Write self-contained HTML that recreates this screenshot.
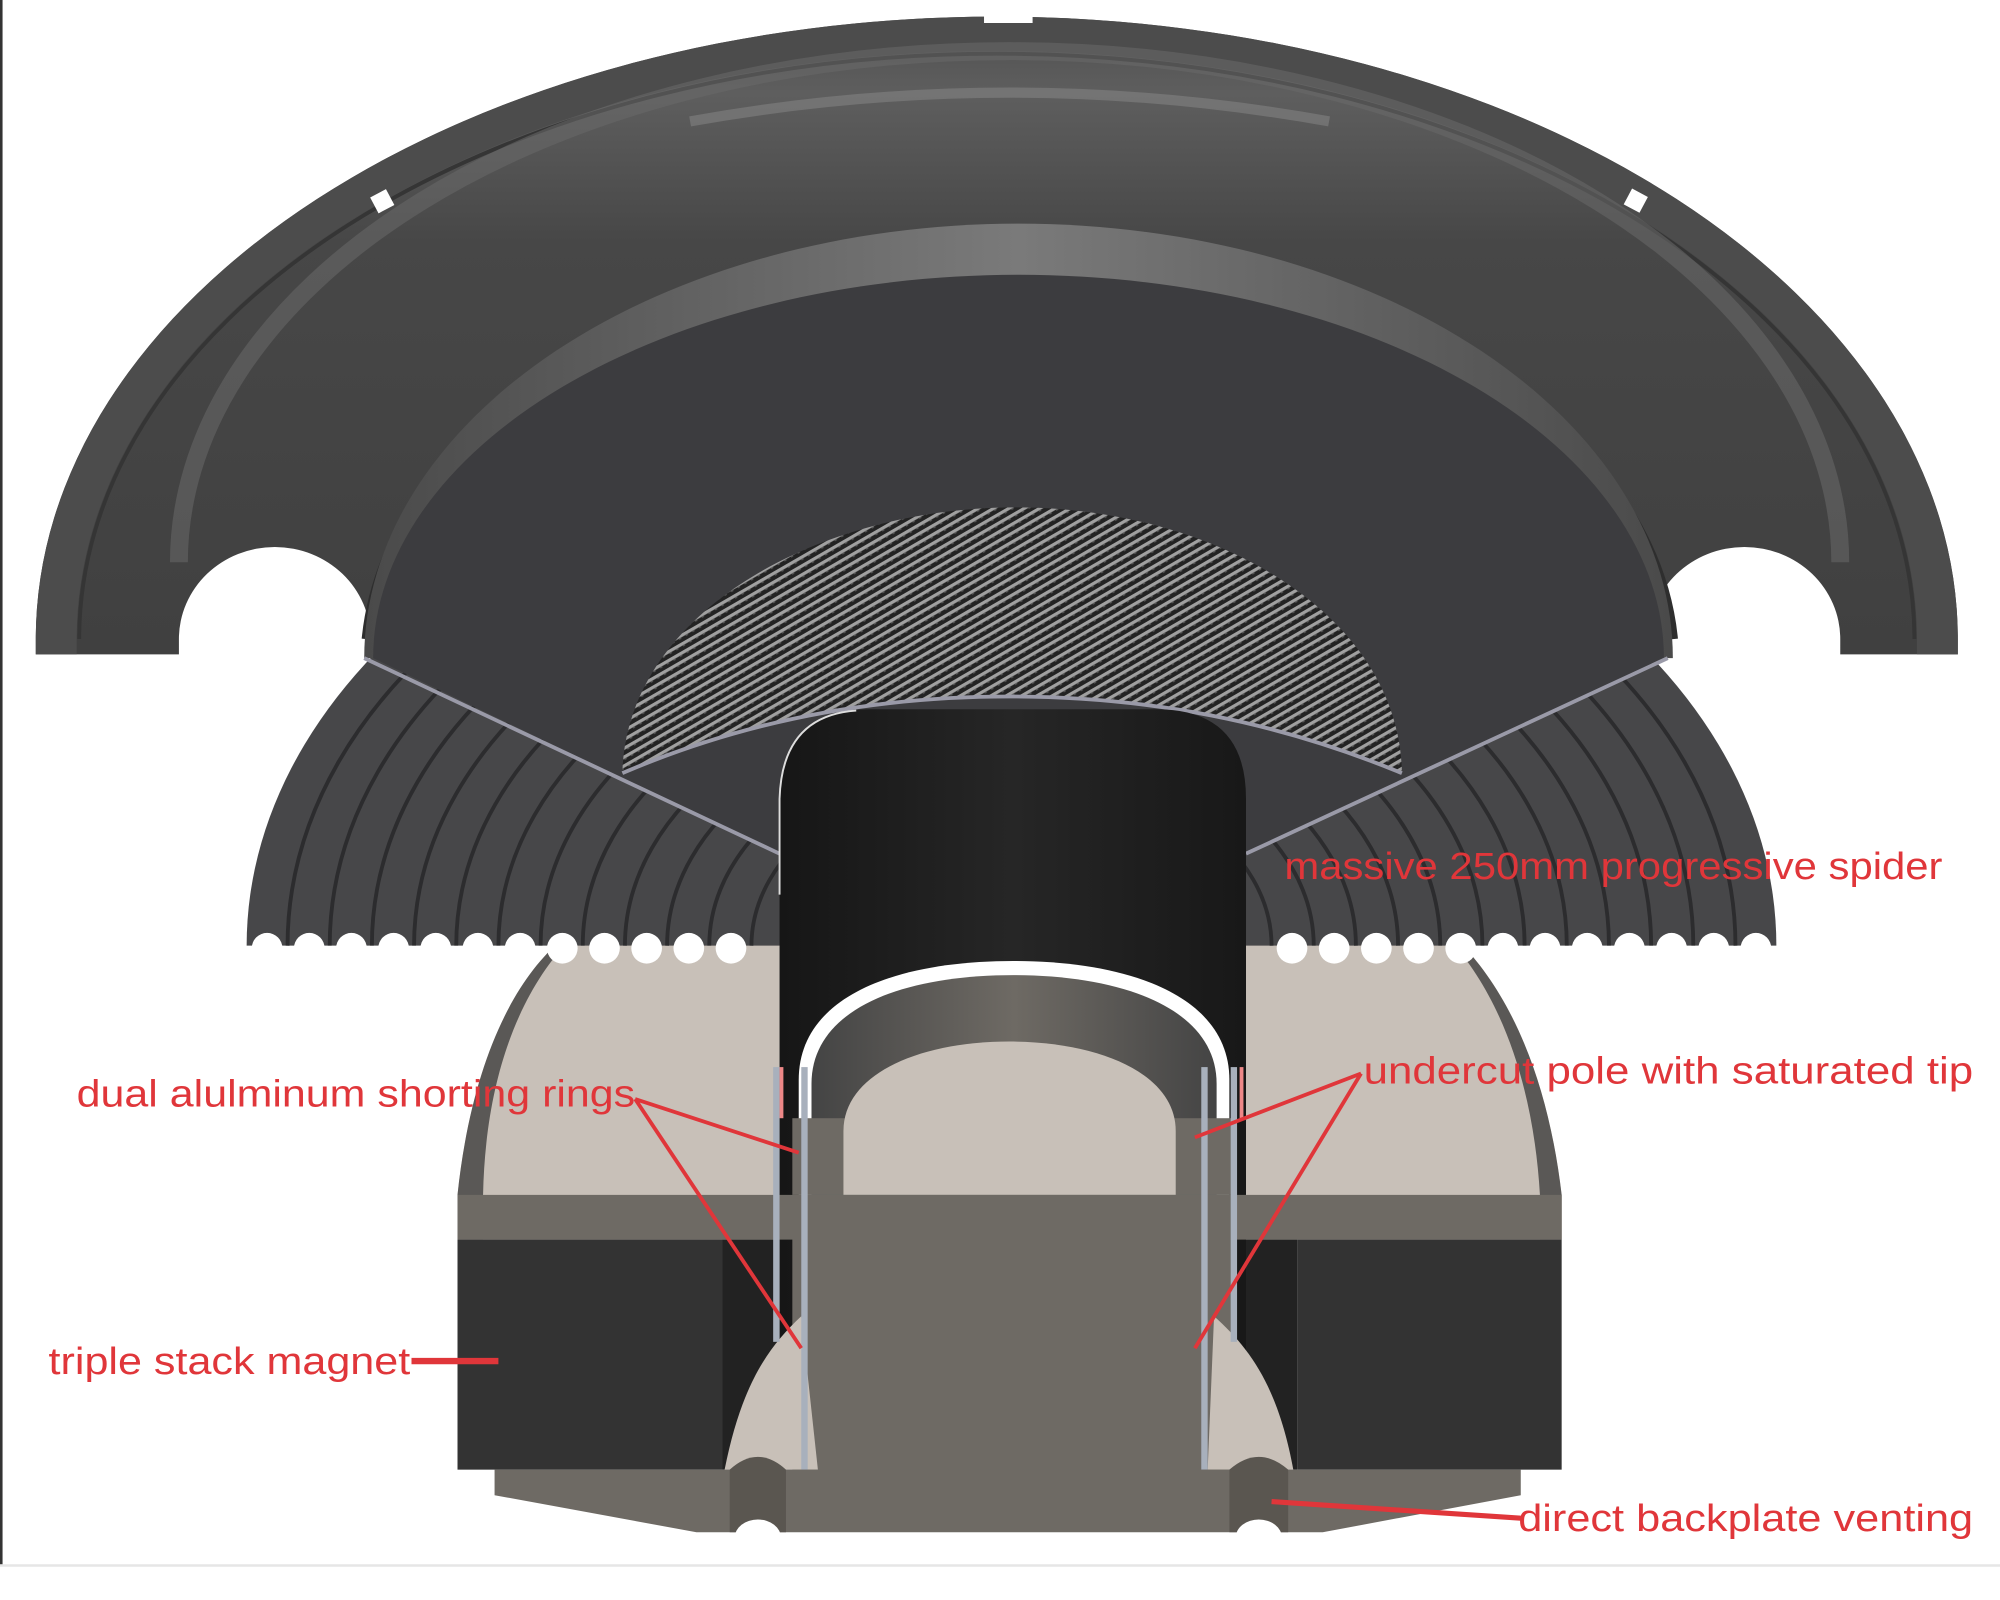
<!DOCTYPE html>
<html><head><meta charset="utf-8"><style>
html,body{margin:0;padding:0;background:#fff;width:2000px;height:1600px;overflow:hidden}
svg{display:block}
text{font-family:"Liberation Sans",sans-serif;fill:#e0363a;font-size:30px}
</style></head><body>
<svg width="2000" height="1600" viewBox="0 0 1565 1252" preserveAspectRatio="none" xmlns="http://www.w3.org/2000/svg">
<defs>
<linearGradient id="sur" x1="0" y1="0" x2="0" y2="1">
<stop offset="0" stop-color="#505050"/><stop offset="0.12" stop-color="#5e5e5e"/><stop offset="0.35" stop-color="#474747"/><stop offset="1" stop-color="#404040"/></linearGradient>
<linearGradient id="rim" x1="0" y1="0" x2="1" y2="0">
<stop offset="0" stop-color="#4a4a4a"/><stop offset="0.5" stop-color="#7a7a7a"/><stop offset="1" stop-color="#4a4a4a"/></linearGradient>
<pattern id="carbon" width="6" height="6" patternUnits="userSpaceOnUse" patternTransform="rotate(-30)">
<rect width="6" height="6" fill="#232323"/><rect width="6" height="2.5" fill="#a0a0a0"/><rect x="0" y="2.5" width="2" height="1" fill="#555"/></pattern>
<linearGradient id="former" x1="0" y1="0" x2="1" y2="0">
<stop offset="0" stop-color="#161616"/><stop offset="0.5" stop-color="#262626"/><stop offset="1" stop-color="#181818"/></linearGradient>
<linearGradient id="inner" x1="0" y1="0" x2="1" y2="0">
<stop offset="0" stop-color="#444"/><stop offset="0.5" stop-color="#6e6a64"/><stop offset="1" stop-color="#444"/></linearGradient>
</defs>
<rect width="1565" height="1252" fill="#fff"/>
<rect x="0" y="0" width="2" height="1225" fill="#333"/>
<rect x="0" y="1224" width="1565" height="2" fill="#e6e6e6"/>

<!-- motor top plate -->
<path d="M358,970 L358,935 C368,840 398,770 440,735 L1140,735 C1185,780 1212,850 1222,935 L1222,970 Z" fill="#c8c0b8"/>
<path d="M358,970 L358,935 C368,840 398,770 440,735 L446,735 C408,775 380,840 378,935 L378,970 Z" fill="#5a5856"/>
<path d="M1222,970 L1222,935 C1212,850 1185,780 1140,735 L1134,735 C1175,780 1200,850 1205,935 L1205,970 Z" fill="#5a5856"/>

<!-- spider -->
<path d="M193,740 A598,412 0 0 1 1390,740 Z" fill="#474749"/>
<g fill="none" stroke="#2c2c2e" stroke-width="3">
<path d="M225,740 A566,390 0 0 1 1358,740"/>
<path d="M258,740 A533,368 0 0 1 1325,740"/>
<path d="M291,740 A500,345 0 0 1 1292,740"/>
<path d="M324,740 A467,322 0 0 1 1259,740"/>
<path d="M357,740 A434,300 0 0 1 1226,740"/>
<path d="M390,740 A401,277 0 0 1 1193,740"/>
<path d="M423,740 A368,254 0 0 1 1160,740"/>
<path d="M456,740 A335,231 0 0 1 1127,740"/>
<path d="M489,740 A302,208 0 0 1 1094,740"/>
<path d="M522,740 A269,186 0 0 1 1061,740"/>
<path d="M555,740 A236,163 0 0 1 1028,740"/>
<path d="M588,740 A203,140 0 0 1 995,740"/>
</g>
<g fill="#fff">
<circle cx="209" cy="742" r="12"/><circle cx="242" cy="742" r="12"/><circle cx="275" cy="742" r="12"/><circle cx="308" cy="742" r="12"/><circle cx="341" cy="742" r="12"/><circle cx="374" cy="742" r="12"/><circle cx="407" cy="742" r="12"/><circle cx="440" cy="742" r="12"/><circle cx="473" cy="742" r="12"/><circle cx="506" cy="742" r="12"/><circle cx="539" cy="742" r="12"/><circle cx="572" cy="742" r="12"/>
<circle cx="1011" cy="742" r="12"/><circle cx="1044" cy="742" r="12"/><circle cx="1077" cy="742" r="12"/><circle cx="1110" cy="742" r="12"/><circle cx="1143" cy="742" r="12"/><circle cx="1176" cy="742" r="12"/><circle cx="1209" cy="742" r="12"/><circle cx="1242" cy="742" r="12"/><circle cx="1275" cy="742" r="12"/><circle cx="1308" cy="742" r="12"/><circle cx="1341" cy="742" r="12"/><circle cx="1374" cy="742" r="12"/>
</g>

<!-- surround -->
<path d="M28,500 A752,487 0 0 1 1532,500 L1532,512 L1440,512 L1440,500 A75,72 0 0 0 1290,500 L1290,515 L290,515 L290,500 A75,72 0 0 0 140,500 L140,512 L28,512 Z" fill="url(#sur)"/>
<!-- flange ring -->
<path d="M28,500 A752,487 0 0 1 1532,500 L1532,512 L1500,512 L1500,500 A712,455 0 0 0 60,500 L60,512 L28,512 Z" fill="#4c4c4c"/>
<path d="M62,500 A718,458 0 0 1 1498,500" fill="none" stroke="#353535" stroke-width="3"/>
<!-- roll highlight -->
<path d="M140,440 A650,400 0 0 1 1440,440" fill="none" stroke="#6a6a6a" stroke-width="14" opacity="0.55"/>
<path d="M540,95 Q790,50 1040,95" fill="none" stroke="#8a8a8a" stroke-width="8" opacity="0.5"/>
<path d="M286,500 A513,328 0 0 1 1310,500" fill="none" stroke="#2e2e2e" stroke-width="6"/>
<!-- flange notches -->
<rect x="292" y="150" width="14" height="14" fill="#fff" transform="rotate(-28 300 157)"/>
<rect x="1273" y="150" width="14" height="14" fill="#fff" transform="rotate(28 1280 157)"/>
<rect x="770" y="10" width="38" height="8" fill="#fff"/>
<!-- rim band -->
<path d="M285,515 A512,340 0 0 1 1309,515 Z" fill="url(#rim)"/>
<!-- cone -->
<path d="M292,515 A505,300 0 0 1 1302,515 L975,668 L610,668 Z" fill="#3c3c3f"/>
<path d="M285,515 L610,668 M1305,515 L975,668" stroke="#9a9aa8" stroke-width="3"/>
<!-- dust cap -->
<path d="M487,605 C490,480 640,397 795,397 C950,397 1095,480 1097,605 C1000,565 900,545 790,545 C680,545 580,565 487,605 Z" fill="url(#carbon)"/>
<path d="M487,605 C580,565 680,545 790,545 C900,545 1000,565 1097,605" fill="none" stroke="#9a9aa8" stroke-width="3"/>

<!-- former -->
<path d="M610,1150 L610,625 Q612,555 680,555 L905,555 Q975,555 975,625 L975,1150 Z" fill="url(#former)"/>
<path d="M610,700 L610,625 Q612,560 670,556" fill="none" stroke="#ddd" stroke-width="1.5"/>

<!-- bands -->
<rect x="358" y="935" width="864" height="35" fill="#6e6a64"/>
<rect x="358" y="970" width="207" height="180" fill="#333"/>
<rect x="1015" y="970" width="207" height="180" fill="#333"/>
<rect x="565" y="970" width="45" height="180" fill="#222"/>
<rect x="975" y="970" width="40" height="180" fill="#222"/>

<!-- pole -->
<path d="M625,935 L625,845 C625,780 700,752 793,752 C885,752 962,780 962,845 L962,935 Z" fill="#fff"/>
<path d="M635,935 L635,848 C635,790 705,763 793,763 C880,763 952,790 952,848 L952,935 Z" fill="url(#inner)"/>
<rect x="620" y="875" width="345" height="60" fill="#6e6a64"/>
<path d="M660,935 L660,885 C660,840 720,815 790,815 C860,815 920,840 920,885 L920,935 Z" fill="#c8c0b8"/>
<rect x="620" y="935" width="345" height="262" fill="#6e6a64"/>

<!-- lower flares -->
<path d="M567,1150 C580,1085 600,1055 627,1030 L640,1150 Z" fill="#c8c0b8"/>
<path d="M1012,1150 C1000,1085 978,1055 950,1030 L945,1150 Z" fill="#c8c0b8"/>

<!-- gap lines -->
<g fill="#a8b0bc">
<rect x="605" y="835" width="5" height="215"/><rect x="627" y="835" width="5" height="315"/>
<rect x="940" y="835" width="5" height="315"/><rect x="963" y="835" width="5" height="215"/>
</g>
<rect x="610" y="835" width="3" height="40" fill="#e88"/>
<rect x="970" y="835" width="3" height="40" fill="#e88"/>

<!-- backplate -->
<path d="M387,1150 L1190,1150 L1190,1170 L1035,1199 L545,1199 L387,1170 Z" fill="#6e6a64"/>
<path d="M571,1199 L571,1150 Q593,1130 615,1150 L615,1199 Z" fill="#5a5650"/>
<path d="M962,1199 L962,1150 Q985,1130 1008,1150 L1008,1199 Z" fill="#5a5650"/>
<ellipse cx="593" cy="1203" rx="18" ry="14" fill="#fff"/>
<ellipse cx="985" cy="1203" rx="18" ry="14" fill="#fff"/>

<!-- leaders -->
<g stroke="#e0363a" stroke-width="3" fill="none">
<path d="M497,860 L625,902 M497,860 L627,1055"/>
<path d="M1065,840 L935,890 M1065,840 L935,1055"/>
<path d="M322,1065 L390,1065" stroke-width="5"/>
<path d="M995,1175 L1190,1188" stroke-width="4"/>
</g>
<text x="1005" y="688" textLength="515" lengthAdjust="spacingAndGlyphs">massive 250mm progressive spider</text>
<text x="1067" y="848" textLength="477" lengthAdjust="spacingAndGlyphs">undercut pole with saturated tip</text>
<text x="60" y="866" textLength="437" lengthAdjust="spacingAndGlyphs">dual alulminum shorting rings</text>
<text x="38" y="1075" textLength="283" lengthAdjust="spacingAndGlyphs">triple stack magnet</text>
<text x="1188" y="1198" textLength="356" lengthAdjust="spacingAndGlyphs">direct backplate venting</text>
</svg>
</body></html>
